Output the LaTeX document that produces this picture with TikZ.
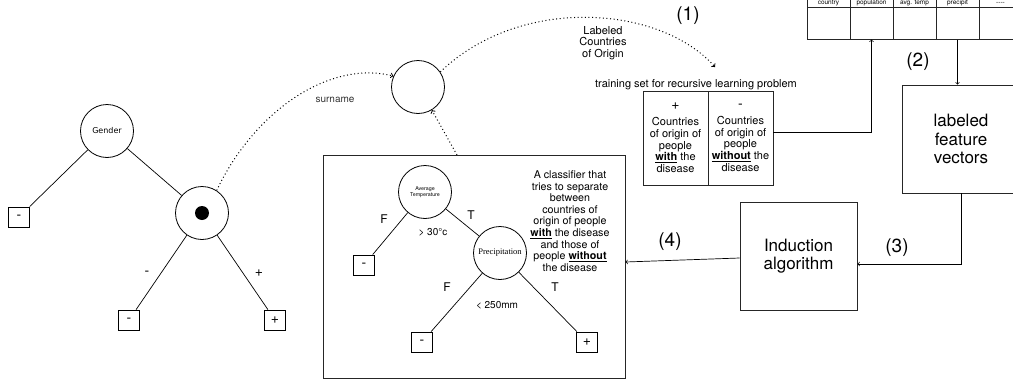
\documentclass[tikz,border=0pt]{standalone}
\usepackage{fontspec}
\setmainfont{TeX Gyre Heros}
\newfontfamily\dejavu{DejaVu Sans}
\newfontfamily\timesf{Liberation Serif}
\usetikzlibrary{shapes.geometric, arrows}
\tikzstyle{box} = [rectangle, draw=black!85, line width=0.8pt, align=center]
\tikzstyle{test} = [circle, draw=black, line width=0.8pt, minimum size=53pt, inner sep=0pt, align=center]
\tikzstyle{leaf} = [rectangle, draw=black, line width=0.8pt, minimum width=21pt, minimum height=20pt, inner sep=0pt, font=\fontsize{14}{15}\selectfont]
\tikzstyle{cell} = [rectangle, draw=black!85, line width=1pt, minimum width=43pt, inner sep=0pt]
\tikzstyle{solotext} = [align=center, inner sep=0pt]
\tikzstyle{branch} = [line width=0.7pt]
\tikzstyle{arrow} = [line width=0.7pt, ->, >=to]
\tikzstyle{dotarrow} = [line width=1pt, dash pattern=on 1pt off 2.6pt, ->, >=to]

\begin{document}
\begin{tikzpicture}[x=1pt, y=-1pt]
    \useasboundingbox (0,0) rectangle (1013,383);

    % first tree
    \node (gender) [test, font=\dejavu\fontsize{8}{9}\selectfont] at (107,131) {Gender};
    \node (lminus) [leaf] at (19,217) {-};
    \node (hole) [test] at (202,213) {};
    \node (dot) [circle, fill=black, minimum size=14pt, inner sep=0pt] at (hole) {};
    \node (hminus) [leaf] at (129,320) {-};
    \node (hplus) [leaf] at (275,320) {+};
    \draw [branch] (gender) -- (lminus);
    \draw [branch] (gender) -- (hole);
    \draw [branch] (hole) -- (hminus);
    \draw [branch] (hole) -- (hplus);
    \node (lbminus) [solotext, font=\fontsize{14}{15}\selectfont] at (147,273) {-};
    \node (lbplus) [solotext, font=\fontsize{14}{15}\selectfont] at (259,273) {+};

    % recursive node
    \node (rec) [test] at (418,87) {};
    \node (surname) [solotext, font=\fontsize{10}{11}\selectfont, text=black!80] at (335,100) {surname};
    \draw [dotarrow] (hole.57) .. controls (255,110) and (330,60) .. (rec.156);

    % classifier
    \node (cls) [box, minimum width=302pt, minimum height=223pt] at (474,266.5) {};
    \coordinate (clsout) at (457,155);
    \draw [dotarrow] (clsout) -- (rec.-59);
    \node (avgt) [test, font=\fontsize{5.3}{6}\selectfont] at (425,192) {Average\\Temperature};
    \node (prec) [test, font=\timesf\fontsize{8.5}{9}\selectfont] at (500,253) {Precipitation};
    \node (cminus) [leaf] at (364,265) {-};
    \node (pminus) [leaf] at (422,342) {-};
    \node (pplus) [leaf] at (587,342) {+};
    \draw [branch] (avgt) -- (cminus);
    \draw [branch] (avgt) -- (prec);
    \draw [branch] (prec) -- (pminus);
    \draw [branch] (prec) -- (pplus);
    \node (f1) [solotext, font=\fontsize{12}{13}\selectfont] at (384,219) {F};
    \node (t1) [solotext, font=\fontsize{12}{13}\selectfont] at (471,215) {T};
    \node (gt) [solotext, font=\fontsize{10}{11}\selectfont] at (433,232) {> 30°c};
    \node (f2) [solotext, font=\fontsize{12}{13}\selectfont] at (447,287) {F};
    \node (t2) [solotext, font=\fontsize{12}{13}\selectfont] at (555,287) {T};
    \node (lt) [solotext, font=\fontsize{10}{11}\selectfont] at (497,305) {< 250mm};
    \node (clstext) [solotext, font=\fontsize{10.7}{11.6}\selectfont] at (570,221) {A classifier that\\tries to separate\\between\\countries of\\origin of people\\\underline{\textbf{with}} the disease\\and those of\\people \underline{\textbf{without}}\\the disease};

    % training set
    \node (origin) [solotext, font=\fontsize{11}{11.7}\selectfont] at (603,43) {Labeled\\Countries\\of Origin};
    \node (one) [solotext, font=\fontsize{19}{20}\selectfont] at (688,16) {(1)};
    \node (tstitle) [solotext, font=\fontsize{11}{12}\selectfont] at (696,85) {training set for recursive learning problem};
    \coordinate (tsin) at (715,67);
    \draw [dotarrow] (rec.34) .. controls (520,-5) and (660,5) .. (tsin);
    \node (tsplus) [box, minimum width=65pt, minimum height=94pt, font=\fontsize{11}{11.7}\selectfont] at (675.5,138) {{\fontsize{14}{14}\selectfont +}\\[4pt]Countries\\of origin of\\people\\\underline{\textbf{with}} the\\disease};
    \node (tsminus) [box, minimum width=65pt, minimum height=94pt, font=\fontsize{11}{11.7}\selectfont] at (740.5,138) {{\fontsize{14}{14}\selectfont -}\\[4pt]Countries\\of origin of\\people\\\underline{\textbf{without}} the\\disease};

    % feature table
    \foreach \i/\t in {1/country, 2/population, 3/avg. temp, 4/precipit, 5/-{}-{}-{}-} {
        \node (h\i) [cell, minimum height=8pt, font=\fontsize{6.5}{7}\selectfont] at (785.5+43*\i,3) {\t};
        \node (b\i) [cell, minimum height=32pt] at (785.5+43*\i,23) {};
    }
    \draw [arrow] (tsminus.east |- 0,132) -| (b2.south);
    \node (two) [solotext, font=\fontsize{19}{20}\selectfont] at (918,62) {(2)};

    % feature vectors and induction
    \node (lfv) [box, minimum width=118pt, minimum height=108pt, font=\fontsize{17}{18.3}\selectfont] at (961,139) {labeled\\feature\\vectors};
    \draw [arrow] (b4.south) -- (b4.south |- lfv.north);
    \node (ind) [box, minimum width=117pt, minimum height=108pt, font=\fontsize{17}{18}\selectfont] at (798.5,256) {Induction\\algorithm};
    \draw [arrow] (lfv.south) |- ([yshift=-8pt]ind.east);
    \node (three) [solotext, font=\fontsize{19}{20}\selectfont] at (897,248) {(3)};
    \draw [arrow] ([yshift=-2pt]ind.west) -- ([yshift=4.5pt]cls.east);
    \node (four) [solotext, font=\fontsize{19}{20}\selectfont] at (670,242) {(4)};
\end{tikzpicture}
\end{document}
